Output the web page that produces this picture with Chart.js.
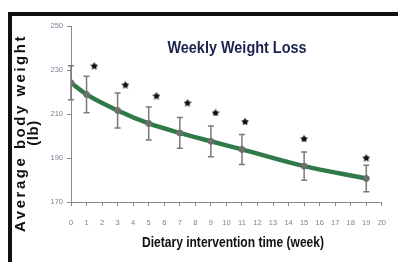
<!DOCTYPE html>
<html>
<head>
<meta charset="utf-8">
<script src="https://cdn.jsdelivr.net/npm/chart.js@4/dist/chart.umd.min.js"></script>
<style>
  html, body { margin: 0; padding: 0; background: #fff; }
  #wrap { position: relative; width: 398px; height: 262px; }
  #frame { position: absolute; left: 8px; top: 12px; right: 0; bottom: 0;
           border-left: 4px solid #111; border-top: 4px solid #111; pointer-events: none; }
</style>
</head>
<body>
<div id="wrap">
  <canvas id="chart" width="398" height="262"></canvas>
  <div id="frame"></div>
</div>
<script>
// weeks of measurement and mean body weight (lb)
const weeks = [0, 1, 3, 5, 7, 9, 11, 15, 19];
const meanWeight = [224.2, 218.9, 211.6, 205.7, 201.4, 197.6, 193.9, 186.3, 180.7];
const errWeight = [7.7, 8.3, 8.0, 7.5, 7.0, 7.0, 6.8, 6.4, 6.0];

// significance stars
const starWeeks = [1.5, 3.5, 5.5, 7.5, 9.3, 11.2, 15, 19];
const starWeight = [232.0, 223.4, 218.4, 215.2, 210.7, 206.7, 198.9, 190.2];

const yTicks = [170, 190, 210, 230, 250];

const titleText = 'Weekly Weight Loss';
const xTitle = 'Dietary intervention time (week)';
const yTitle = ['Average body weight', '(lb)'];

const FONT = '"Liberation Sans", Arial, sans-serif';

// little filled star used as point style
function makeStar(size) {
  const c = document.createElement('canvas');
  c.width = size; c.height = size;
  const g = c.getContext('2d');
  const cx = size / 2, cy = size / 2 + 0.5, R = size / 2, r = R * 0.55;
  g.beginPath();
  for (let i = 0; i < 10; i++) {
    const rad = i % 2 === 0 ? R : r;
    const a = -Math.PI / 2 + i * Math.PI / 5;
    g.lineTo(cx + rad * Math.cos(a), cy + rad * Math.sin(a));
  }
  g.closePath();
  g.fillStyle = '#111';
  g.fill();
  return c;
}

const errorBars = {
  id: 'errorBars',
  afterDatasetDraw(chart, args) {
    if (args.index !== 0) return;
    const { ctx, scales: { x, y } } = chart;
    ctx.save();
    ctx.strokeStyle = '#7a7a7a';
    ctx.lineWidth = 1.5;
    weeks.forEach((w, i) => {
      const px = x.getPixelForValue(w);
      const top = y.getPixelForValue(meanWeight[i] + errWeight[i]);
      const bot = y.getPixelForValue(meanWeight[i] - errWeight[i]);
      ctx.beginPath();
      ctx.moveTo(px, top); ctx.lineTo(px, bot);
      ctx.moveTo(px - 3, top); ctx.lineTo(px + 3, top);
      ctx.moveTo(px - 3, bot); ctx.lineTo(px + 3, bot);
      ctx.stroke();
    });
    ctx.restore();
  }
};

// draw text squeezed horizontally (no narrow font installed)
function narrowText(ctx, text, x, y, sx) {
  ctx.save();
  ctx.translate(x, y);
  ctx.scale(sx, 1);
  ctx.fillText(text, 0, 0);
  ctx.restore();
}

const texts = {
  id: 'texts',
  afterDraw(chart) {
    const ctx = chart.ctx;
    ctx.save();
    ctx.textAlign = 'center';
    ctx.textBaseline = 'middle';

    ctx.fillStyle = '#1c2150';
    ctx.font = 'bold 17px ' + FONT;
    narrowText(ctx, titleText, 237, 48, 0.85);

    ctx.fillStyle = '#111';
    ctx.font = 'bold 14px ' + FONT;
    narrowText(ctx, xTitle, 233, 243, 0.86);

    ctx.translate(21, 133);
    ctx.rotate(-Math.PI / 2);
    ctx.font = 'bold 15px ' + FONT;
    ctx.letterSpacing = '2.5px';
    ctx.fillText(yTitle[0], 0, 0);
    ctx.letterSpacing = '0.5px';
    ctx.fillText(yTitle[1], 0, 13);
    ctx.restore();
  }
};

new Chart(document.getElementById('chart'), {
  type: 'scatter',
  data: {
    datasets: [
      {
        label: 'trend',
        data: weeks.map((w, i) => ({ x: w, y: meanWeight[i] })),
        showLine: true,
        borderColor: '#2f7a48',
        borderWidth: 4.5,
        cubicInterpolationMode: 'monotone',
        pointRadius: 0,
        order: 3
      },
      {
        label: 'mean',
        data: weeks.map((w, i) => ({ x: w, y: meanWeight[i] })),
        pointRadius: 3,
        pointBackgroundColor: '#6e6e6e',
        pointBorderColor: '#6e6e6e',
        order: 2
      },
      {
        label: 'sig',
        data: starWeeks.map((w, i) => ({ x: w, y: starWeight[i] })),
        pointStyle: makeStar(8),
        pointRadius: 4,
        order: 1
      }
    ]
  },
  options: {
    responsive: false,
    animation: false,
    layout: { padding: { top: 26, right: 5, left: 0, bottom: 0 } },
    plugins: { legend: { display: false }, tooltip: { enabled: false } },
    scales: {
      x: {
        type: 'linear', min: 0, max: 20,
        afterFit(scale) { scale.height = 60; },
        border: { color: '#8a8a8a', width: 1 },
        grid: { drawOnChartArea: false, drawTicks: true, tickLength: 4, color: '#8a8a8a' },
        ticks: { stepSize: 1, padding: 12, color: '#7d8294', font: { size: 7.5, family: FONT } }
      },
      y: {
        min: 170, max: 250,
        afterFit(scale) { scale.width = 71; },
        afterBuildTicks(scale) { scale.ticks = yTicks.map(v => ({ value: v })); },
        border: { color: '#8a8a8a', width: 1 },
        grid: { drawOnChartArea: false, drawTicks: true, tickLength: 4, color: '#8a8a8a' },
        ticks: { padding: 4, color: '#7d8294', font: { size: 7.5, family: FONT } }
      }
    }
  },
  plugins: [errorBars, texts]
});
</script>
</body>
</html>
